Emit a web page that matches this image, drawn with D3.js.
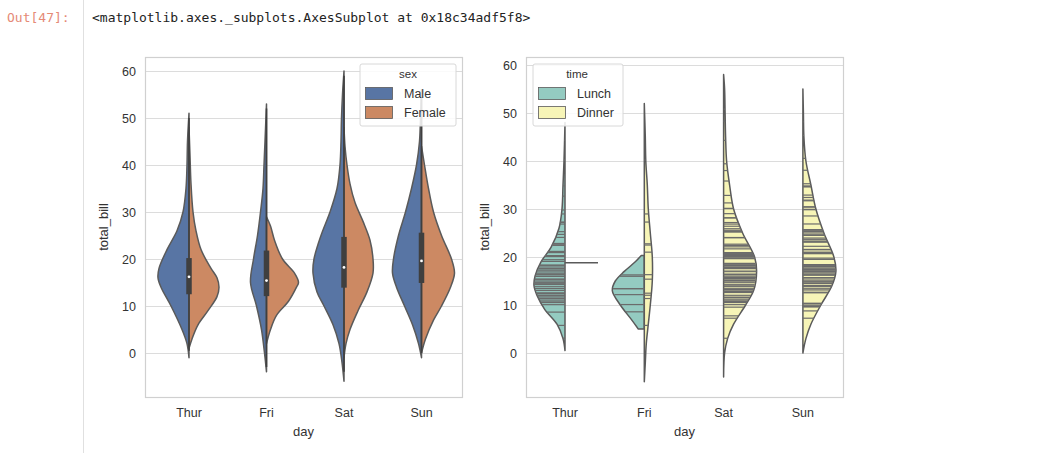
<!DOCTYPE html>
<html><head><meta charset="utf-8">
<script src="https://cdn.jsdelivr.net/npm/d3@7"></script>
<style>
body{margin:0;background:#fff;font-family:"Liberation Sans",Arial,sans-serif;}
</style></head>
<body><svg id="c" width="1055" height="453"></svg>
<script>
// Data: categories, violin half profiles [value, half width (px)], quartile boxes, stick points
const days = ["Thur", "Fri", "Sat", "Sun"];
const yTicks = [0, 10, 20, 30, 40, 50, 60];

const maleProfile = [
  [[-1,0],[2,2],[5,7],[10,18],[14,28],[16,31],[18,30],[22,22],[26,12],[30,6],[35,3],[40,2],[45,1.5],[51,0]],
  [[-4,0],[0,2],[5,5],[10,10],[15,16],[20,13],[25,9],[30,6],[35,3.5],[40,2.5],[45,1.5],[53,0]],
  [[-6,0],[-2,2],[2,5],[6,11],[10,20],[13,27],[17,31],[20,30],[25,23],[30,14],[35,7],[40,4],[45,3],[50,2.5],[55,1.5],[60,0]],
  [[-1,0],[2,3],[6,9],[10,17],[14,25],[17,29],[20,28],[25,23],[30,16],[35,10],[40,5],[45,2],[50,1],[56,0]]
];
const femaleProfile = [
  [[1,0],[3,3],[6,9],[9,19],[12,28],[14,30],[16,28],[18,22],[22,12],[26,7],[30,4],[36,2],[42,1],[48,0]],
  [[2,0],[5,4],[8,10],[11,22],[14,30],[15,32],[17,28],[20,16],[24,8],[27,4],[29,0]],
  [[-1,0],[2,2],[5,6],[9,14],[13,23],[17,29],[20,29],[24,26],[28,19],[32,11],[36,6],[40,3],[44,1],[48,0]],
  [[0,0],[3,4],[7,12],[10,20],[14,29],[17,33],[20,30],[25,20],[30,12],[35,7],[40,3],[44,0]]
];
const boxQ1 = [12.5, 12.1, 13.9, 14.9];
const boxQ3 = [20.2, 21.8, 24.7, 25.6];
const boxMed = [16.2, 15.4, 18.2, 19.6];
const whiskLo = [0.5, -3, -4, 0];
const whiskHi = [50, 52, 59, 56];

const lunchProfile = [
  [[0.5,0],[3,2],[6,8],[9,20],[12,28],[14,31],[16,30],[19,24],[22,14],[26,6],[30,3],[35,2],[40,1],[48,0]],
  [[5,6],[7,13],[10,24],[13,32],[15,29],[17,20],[19,9],[20.3,3]],
  null, null
];
const dinnerProfile = [
  null,
  [[-6,0],[-2,1],[2,2],[6,4],[10,6],[15,8],[20,8],[25,6],[30,4],[35,3],[40,1.5],[45,1],[52,0]],
  [[-5,0],[0,1],[3,4],[6,10],[10,22],[13,30],[17,33],[20,31],[25,19],[30,10],[35,6],[40,3],[45,2],[50,1.5],[55,1],[58,0]],
  [[0,0],[3,3],[6,8],[10,18],[14,29],[17,33],[20,31],[25,21],[30,13],[35,8],[40,3],[45,1],[50,0.5],[55,0]]
];
const thurDinnerValue = 18.78;
const lunchPoints = [
  [27.2,22.76,17.29,19.44,16.66,10.07,32.68,15.98,34.83,13.03,18.28,24.71,21.16,28.97,22.49,5.75,16.32,22.75,40.17,27.28,12.03,21.01,12.46,11.35,15.38,
   44.3,22.42,20.92,15.36,20.29,13.81,11.02,18.29,17.59,20.08,16.45,3.07,20.23,15.01,12.02,17.07,26.86,25.28,14.73,10.51,17.92,
   10.65,12.43,24.08,11.69,13.42,14.26,15.95,12.48,29.8,8.52,14.52,11.38,22.82,19.08,20.27,11.17,12.26,18.26,8.51,10.33,14.15
   ].filter(v => v <= 48.5).slice(0, 61),
  [12.16,13.42,8.58,15.98,13.42,16.27,10.09]
];
const dinnerPoints = [
  [],
  [28.97,22.49,5.75,16.32,22.75,40.17,27.28,12.03,21.01,12.46,11.35,15.38],
  [20.65,17.92,20.29,15.77,39.42,19.82,17.81,13.37,12.69,21.7,19.65,9.55,18.35,15.06,20.69,17.78,24.06,16.31,16.93,18.69,31.27,16.04,
   38.01,26.41,11.24,48.27,20.29,13.81,11.02,18.29,17.59,20.08,16.45,3.07,20.23,15.01,12.02,17.07,26.86,25.28,14.73,10.51,17.92,
   44.3,22.42,20.92,15.36,20.49,25.21,18.24,14.31,14,7.25,10.59,10.63,50.81,15.81,7.74,30.14,12.9,28.15,11.59,
   20.45,13.28,22.12,24.01,15.69,11.61,10.77,15.53,10.07,12.6,32.83,35.83,29.03,27.18,22.67,17.82,25.56,19.77,
   12.76,30.06,25.89,48.33,13.27,28.17,12.9],
  [16.99,10.34,21.01,23.68,24.59,25.29,8.77,26.88,15.04,14.78,10.27,35.26,15.42,18.43,14.83,21.58,10.33,16.29,16.97,
   17.46,13.94,9.68,30.4,18.29,22.23,32.4,28.55,18.04,12.54,10.29,34.81,9.94,25.56,19.49,38.07,23.95,25.71,17.31,29.93,
   14.07,13.13,17.26,24.55,19.77,29.85,48.17,25,13.39,16.49,21.5,12.66,16.21,13.81,17.51,24.52,20.76,31.71,
   7.25,31.85,16.82,32.9,17.89,14.48,9.6,34.63,34.65,23.33,45.35,23.17,40.55,20.69,20.9,30.46,18.15,23.1,15.69]
];

const svg = d3.select("#c");

// notebook chrome
svg.append("line").attr("x1", 83.5).attr("x2", 83.5).attr("y1", 0).attr("y2", 453)
  .attr("stroke", "#e0e0e0");
svg.append("text").attr("x", 7).attr("y", 22).attr("fill", "#e58a76")
  .style("font-family", "'DejaVu Sans Mono',monospace").style("font-size", "13px").text("Out[47]:");
svg.append("text").attr("x", 92).attr("y", 22).attr("fill", "#222")
  .style("font-family", "'DejaVu Sans Mono',monospace").style("font-size", "13px")
  .text("<matplotlib.axes._subplots.AxesSubplot at 0x18c34adf5f8>");

const lineCol = "#5a5a5a";

function panel(opt) {
  const g = svg.append("g");
  const x = d3.scalePoint().domain(days).range([opt.cx0, opt.cx0 + 3 * opt.step]);
  const y = d3.scaleLinear().domain([0, 60]).range([opt.y0, opt.y60]);
  const w = d3.scaleLinear().domain([0, 1]).range([0, 1]); // half width, px

  g.selectAll(".grid").data(yTicks).join("line")
    .attr("x1", opt.left).attr("x2", opt.right)
    .attr("y1", d => y(d) + 0.5).attr("y2", d => y(d) + 0.5)
    .attr("stroke", "#dcdcdc").attr("stroke-width", 1);
  g.append("rect").attr("x", opt.left + 0.5).attr("y", opt.top + 0.5)
    .attr("width", opt.right - opt.left).attr("height", opt.bottom - opt.top)
    .attr("fill", "none").attr("stroke", "#d0d0d0").attr("stroke-width", 1.2);

  g.selectAll(".yt").data(yTicks).join("text")
    .attr("x", opt.left - 9).attr("y", d => y(d) + 4.5).attr("text-anchor", "end")
    .attr("fill", "#333").style("font-size", "12.5px").text(d => d);
  g.selectAll(".xt").data(days).join("text")
    .attr("x", d => x(d)).attr("y", opt.bottom + 20).attr("text-anchor", "middle")
    .attr("fill", "#333").style("font-size", "12.5px").text(d => d);
  g.append("text").attr("x", (opt.left + opt.right) / 2).attr("y", opt.bottom + 39)
    .attr("text-anchor", "middle").attr("fill", "#333").style("font-size", "13px").text("day");
  g.append("text").attr("transform", `translate(${opt.left - 37},${(opt.top + opt.bottom) / 2}) rotate(-90)`)
    .attr("text-anchor", "middle").attr("fill", "#333").style("font-size", "13px").text("total_bill");

  const half = (prof, i, side, color) => {
    const cx = x(days[i]);
    const area = d3.area().curve(d3.curveCatmullRom)
      .y(d => y(d[0])).x0(cx).x1(d => cx + side * w(d[1]));
    g.append("path").attr("d", area(prof) + "Z").attr("fill", color)
      .attr("stroke", lineCol).attr("stroke-width", 1.5).attr("stroke-linejoin", "round");
  };

  days.forEach((d, i) => {
    const L = opt.leftProf[i], R = opt.rightProf[i];
    if (L) half(L, i, -1, opt.colors[0]);
    if (R) half(R, i, 1, opt.colors[1]);
    if (opt.sticks) {
      const cx = x(d);
      const lerp = (prof, v) => {
        for (let k = 1; k < prof.length; k++) {
          const a = prof[k - 1], b = prof[k];
          if (v >= a[0] && v <= b[0]) return a[1] + (b[1] - a[1]) * (v - a[0]) / (b[0] - a[0]);
        }
        return 0;
      };
      if (L) g.selectAll(null).data(opt.sticks[0][i]).join("line")
        .attr("x1", cx).attr("x2", v => cx - w(lerp(L, v)))
        .attr("y1", v => y(v)).attr("y2", v => y(v))
        .attr("stroke", "#6b6b6b").attr("stroke-width", 1.2);
      if (R) g.selectAll(null).data(opt.sticks[1][i]).join("line")
        .attr("x1", cx).attr("x2", v => cx + w(lerp(R, v)))
        .attr("y1", v => y(v)).attr("y2", v => y(v))
        .attr("stroke", "#6b6b6b").attr("stroke-width", 1.2);
    }
  });

  if (opt.box) {
    days.forEach((d, i) => {
      const cx = x(d);
      g.append("line").attr("x1", cx).attr("x2", cx)
        .attr("y1", y(whiskLo[i])).attr("y2", y(whiskHi[i]))
        .attr("stroke", "#3f3f3f").attr("stroke-width", 1.6);
      g.append("line").attr("x1", cx).attr("x2", cx)
        .attr("y1", y(boxQ1[i])).attr("y2", y(boxQ3[i]))
        .attr("stroke", "#3f3f3f").attr("stroke-width", 5.5);
      g.append("circle").attr("cx", cx).attr("cy", y(boxMed[i])).attr("r", 1.4).attr("fill", "#fff");
    });
  }
  if (opt.extra) opt.extra(g, x, y);

  // legend
  const lg = g.append("g").attr("transform", `translate(${opt.legX},${opt.top + 7})`);
  lg.append("rect").attr("width", opt.legW).attr("height", 62).attr("rx", 2)
    .attr("fill", "#fff").attr("fill-opacity", 0.85).attr("stroke", "#d8d8d8");
  lg.append("text").attr("x", opt.legTitleX).attr("y", 14).attr("text-anchor", "middle")
    .attr("fill", "#333").style("font-size", "11.5px").text(opt.legTitle);
  opt.legNames.forEach((n, k) => {
    lg.append("rect").attr("x", 5.5).attr("y", 23.5 + k * 19).attr("width", 27).attr("height", 12)
      .attr("fill", opt.colors[k]).attr("stroke", lineCol).attr("stroke-width", 0.8);
    lg.append("text").attr("x", 44).attr("y", 34 + k * 19).attr("fill", "#333")
      .style("font-size", "12.5px").text(n);
  });
}

panel({
  left: 145, right: 462, top: 57, bottom: 397, cx0: 189, step: 77.5, y0: 353, y60: 71,
  leftProf: maleProfile, rightProf: femaleProfile, colors: ["#5875a4", "#cc8963"],
  box: true, legX: 360, legW: 96, legTitleX: 48, legTitle: "sex", legNames: ["Male", "Female"]
});

panel({
  left: 526, right: 843, top: 57, bottom: 397, cx0: 565, step: 79.3, y0: 353, y60: 65,
  leftProf: lunchProfile, rightProf: dinnerProfile, colors: ["#94cbc1", "#f7f5b7"],
  sticks: [lunchPoints, dinnerPoints],
  extra: (g, x, y) => {
    g.append("line").attr("x1", x("Thur")).attr("x2", x("Thur") + 33)
      .attr("y1", y(thurDinnerValue)).attr("y2", y(thurDinnerValue))
      .attr("stroke", lineCol).attr("stroke-width", 1.5);
  },
  legX: 533, legW: 90, legTitleX: 44, legTitle: "time", legNames: ["Lunch", "Dinner"]
});
</script></body></html>
